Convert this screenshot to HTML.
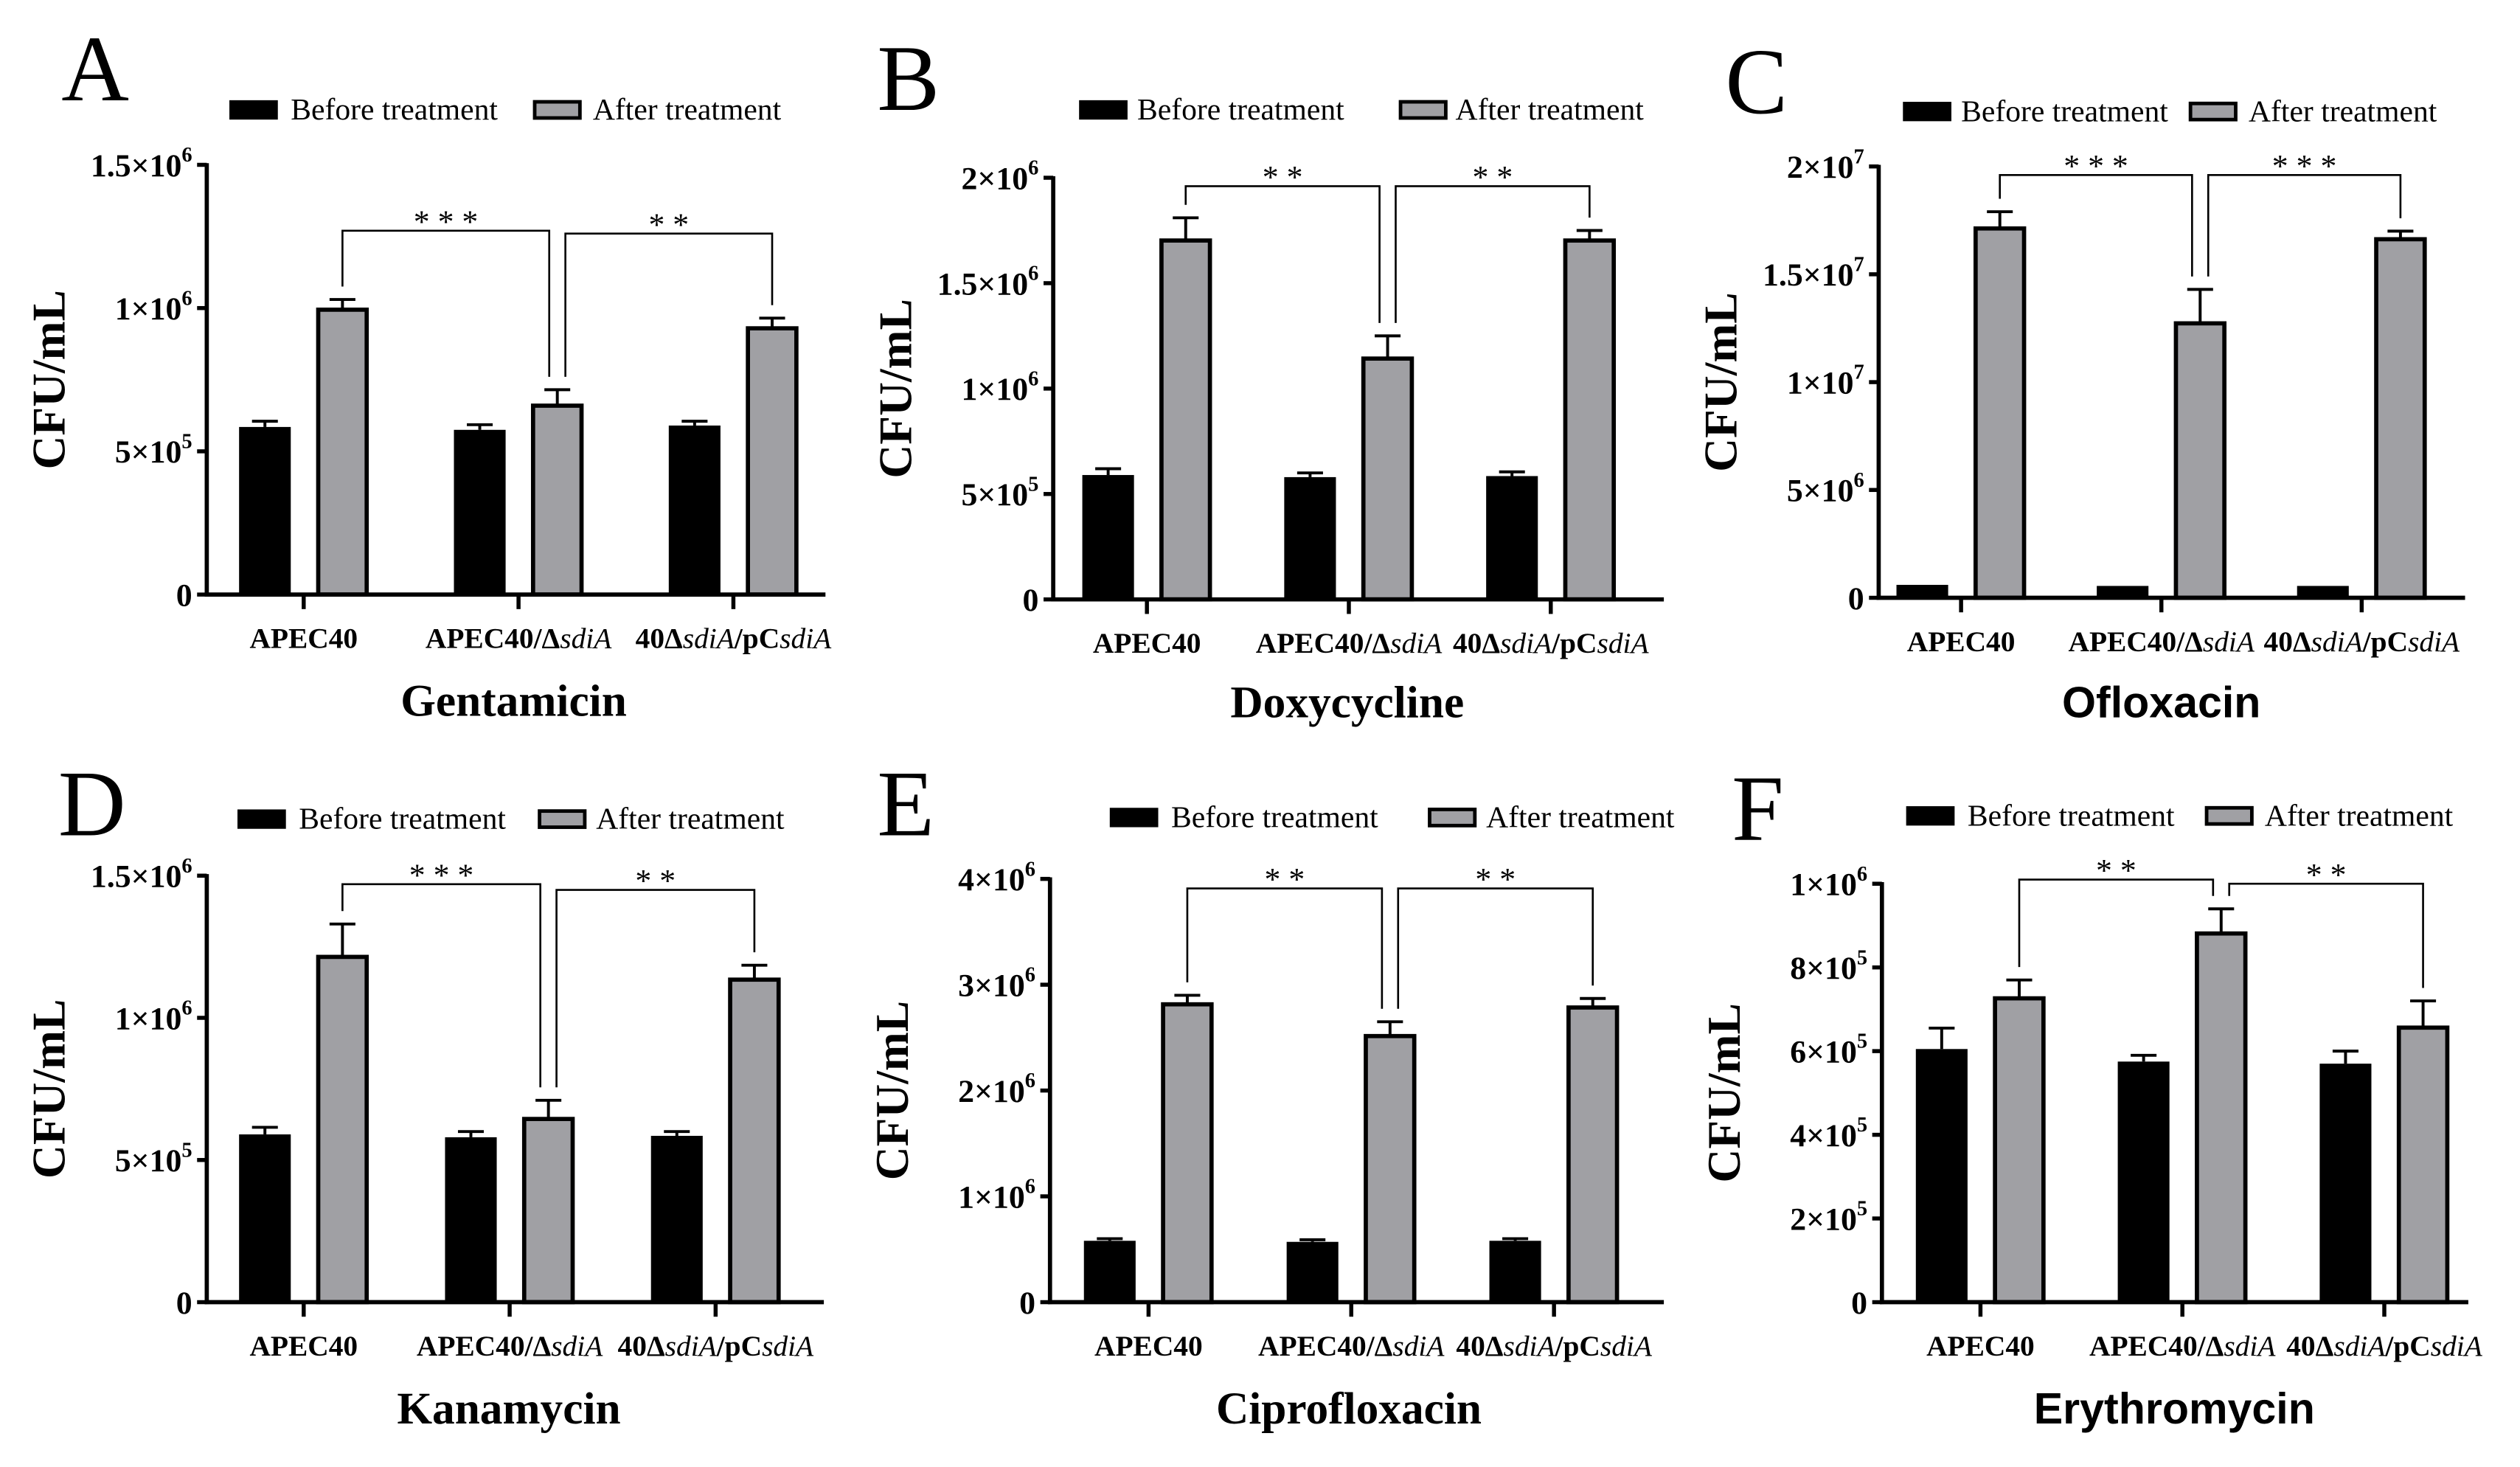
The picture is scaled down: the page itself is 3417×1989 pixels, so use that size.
<!DOCTYPE html>
<html><head><meta charset="utf-8"><style>
html,body{margin:0;padding:0;background:#fff}
svg{display:block}
.serif{font-family:"Liberation Serif",serif}
.sans{font-family:"Liberation Sans",sans-serif}
</style></head><body>
<svg id="fig" width="3417" height="1989" viewBox="0 0 1560 908" xmlns="http://www.w3.org/2000/svg"></svg>
<script>
const categories = ["APEC40", "APEC40/Δ", "40Δ"];
// values (CFU/mL)
const gentBefore = [5.85e5, 5.75e5, 5.9e5];
const gentBeforeErr = [0.2e5, 0.18e5, 0.15e5];
const gentAfter = [1.0e6, 6.65e5, 9.35e5];
const gentAfterErr = [0.3e5, 0.5e5, 0.3e5];
const doxyBefore = [5.9e5, 5.8e5, 5.85e5];
const doxyBeforeErr = [0.3e5, 0.2e5, 0.2e5];
const doxyAfter = [1.71e6, 1.15e6, 1.71e6];
const doxyAfterErr = [1.0e5, 1.0e5, 0.4e5];
const oflxBefore = [0.6e6, 0.55e6, 0.55e6];
const oflxBeforeErr = [0, 0, 0];
const oflxAfter = [1.72e7, 1.28e7, 1.67e7];
const oflxAfterErr = [0.7e6, 1.5e6, 0.3e6];
const kanaBefore = [5.9e5, 5.8e5, 5.85e5];
const kanaBeforeErr = [0.25e5, 0.2e5, 0.15e5];
const kanaAfter = [1.22e6, 6.5e5, 1.14e6];
const kanaAfterErr = [1.1e5, 0.6e5, 0.45e5];
const ciprBefore = [5.8e5, 5.7e5, 5.8e5];
const ciprBeforeErr = [0.2e5, 0.2e5, 0.2e5];
const ciprAfter = [2.83e6, 2.53e6, 2.8e6];
const ciprAfterErr = [0.7e5, 1.2e5, 0.7e5];
const erytBefore = [6.05e5, 5.75e5, 5.7e5];
const erytBeforeErr = [0.5e5, 0.15e5, 0.3e5];
const erytAfter = [7.3e5, 8.85e5, 6.6e5];
const erytAfterErr = [0.4e5, 0.55e5, 0.6e5];
// significance
const gentStars = ["* * *", "* *"];
const doxyStars = ["* *", "* *"];
const oflxStars = ["* * *", "* * *"];
const kanaStars = ["* * *", "* *"];
const ciprStars = ["* *", "* *"];
const erytStars = ["* *", "* *"];
const gentBracket = [1.27e6, 1.26e6];
const doxyBracket = [1.96e6, 1.96e6];
const oflxBracket = [1.96e7, 1.96e7];
const kanaBracket = [1.47e6, 1.45e6];
const ciprBracket = [3.91e6, 3.91e6];
const erytBracket = [1.01e6, 1.0e6];
// ticks
const ticksA = [0, 5e5, 1e6, 1.5e6];
const tickLabelsA = [["0",""], ["5×10","5"], ["1×10","6"], ["1.5×10","6"]];
const ticksB = [0, 5e5, 1e6, 1.5e6, 2e6];
const tickLabelsB = [["0",""], ["5×10","5"], ["1×10","6"], ["1.5×10","6"], ["2×10","6"]];
const ticksC = [0, 5e6, 1e7, 1.5e7, 2e7];
const tickLabelsC = [["0",""], ["5×10","6"], ["1×10","7"], ["1.5×10","7"], ["2×10","7"]];
const ticksE = [0, 1e6, 2e6, 3e6, 4e6];
const tickLabelsE = [["0",""], ["1×10","6"], ["2×10","6"], ["3×10","6"], ["4×10","6"]];
const ticksF = [0, 2e5, 4e5, 6e5, 8e5, 1e6];
const tickLabelsF = [["0",""], ["2×10","5"], ["4×10","5"], ["6×10","5"], ["8×10","5"], ["1×10","6"]];

const NS = "http://www.w3.org/2000/svg";
const svg = document.getElementById('fig');
function mk(tag, attrs, parent, text) {
  const e = document.createElementNS(NS, tag);
  for (const k in attrs) e.setAttribute(k, attrs[k]);
  if (text !== undefined) e.textContent = text;
  (parent || svg).appendChild(e);
  return e;
}

const panels = [
  {id:"a", letter:"A", lx:38, ly:62, title:"Gentamicin", tcls:"serif", tx:318, ty:443,
   x0:128, xEnd:511, yTop:102, y0:368, max:1.5e6, g0:188, sp:133,
   ticks:ticksA, tl:tickLabelsA, before:gentBefore, be:gentBeforeErr, after:gentAfter, ae:gentAfterErr,
   stars:gentStars, br:gentBracket, leg:[142,180,330,367,68]},
  {id:"b", letter:"B", lx:543, ly:68, title:"Doxycycline", tcls:"serif", tx:834, ty:444,
   x0:652, xEnd:1030, yTop:110, y0:371, max:2e6, g0:710, sp:125,
   ticks:ticksB, tl:tickLabelsB, before:doxyBefore, be:doxyBeforeErr, after:doxyAfter, ae:doxyAfterErr,
   stars:doxyStars, br:doxyBracket, leg:[668,704,866,901,68]},
  {id:"c", letter:"C", lx:1068, ly:70, title:"Ofloxacin", tcls:"sans", tx:1338, ty:444,
   x0:1163, xEnd:1526, yTop:103, y0:370, max:2e7, g0:1214, sp:124,
   ticks:ticksC, tl:tickLabelsC, before:oflxBefore, be:oflxBeforeErr, after:oflxAfter, ae:oflxAfterErr,
   stars:oflxStars, br:oflxBracket, leg:[1178,1214,1355,1392,69]},
  {id:"d", letter:"D", lx:36, ly:517, title:"Kanamycin", tcls:"serif", tx:315, ty:881,
   x0:128, xEnd:510, yTop:542, y0:806, max:1.5e6, g0:188, sp:127.5,
   ticks:ticksA, tl:tickLabelsA, before:kanaBefore, be:kanaBeforeErr, after:kanaAfter, ae:kanaAfterErr,
   stars:kanaStars, br:kanaBracket, leg:[147,185,333,369,507]},
  {id:"e", letter:"E", lx:543, ly:517, title:"Ciprofloxacin", tcls:"serif", tx:835, ty:881,
   x0:650, xEnd:1030, yTop:544, y0:806, max:4e6, g0:711, sp:125.5,
   ticks:ticksE, tl:tickLabelsE, before:ciprBefore, be:ciprBeforeErr, after:ciprAfter, ae:ciprAfterErr,
   stars:ciprStars, br:ciprBracket, leg:[687,725,884,920,506]},
  {id:"f", letter:"F", lx:1072, ly:520, title:"Erythromycin", tcls:"sans", tx:1346, ty:881,
   x0:1165, xEnd:1528, yTop:547, y0:806, max:1e6, g0:1226, sp:125,
   ticks:ticksF, tl:tickLabelsF, before:erytBefore, be:erytBeforeErr, after:erytAfter, ae:erytAfterErr,
   stars:erytStars, br:erytBracket, leg:[1180,1218,1365,1402,505]}
];

panels.forEach(p => {
  const g = mk('g', {});
  
  
  const y = v => p.y0 - (v / p.max) * (p.y0 - p.yTop);
  const gx = i => p.g0 + i * p.sp;
  const BW = 32, OFF = 24;

  const L = mk('text', {x:p.lx, y:p.ly, class:'serif', 'font-size':58}, g, p.letter);
  
  

  // legend
  const [r1, t1, r2, t2, ly] = p.leg;
  const lg = mk('g', {}, g);
  
  
  mk('rect', {x:r1, y:ly-6, width:30, height:12, fill:'#000'}, lg);
  mk('text', {x:t1, y:ly+6, class:'serif', 'font-size':19}, lg, 'Before treatment');
  mk('rect', {x:r2+1, y:ly-5, width:28, height:10, fill:'#a0a0a4', stroke:'#000', 'stroke-width':2.2}, lg);
  mk('text', {x:t2, y:ly+6, class:'serif', 'font-size':19}, lg, 'After treatment');

  // y axis ticks
  p.ticks.forEach((t, i) => {
    const ty = y(t);
    mk('line', {x1:p.x0-6, x2:p.x0, y1:ty, y2:ty, stroke:'#000', 'stroke-width':2.5}, g);
    const lab = mk('text', {x:p.x0-9, y:ty+7, 'text-anchor':'end', class:'serif', 'font-size':20, 'font-weight':'bold'}, g);
    
    
    const [base, exp] = p.tl[i];
    mk('tspan', {}, lab, base);
    if (exp) mk('tspan', {'font-size':13, dy:-9}, lab, exp);
  });

  // bars
  categories.forEach((c, i) => {
    const cx = gx(i);
    const bx = cx - OFF, ax = cx + OFF;
    [[bx, p.before[i], p.be[i]], [ax, p.after[i], p.ae[i]]].forEach(([x, v, e]) => {
      if (e > 0) {
        mk('line', {x1:x, x2:x, y1:y(v), y2:y(v+e), stroke:'#000', 'stroke-width':1.8}, g);
        mk('line', {x1:x-8, x2:x+8, y1:y(v+e), y2:y(v+e), stroke:'#000', 'stroke-width':1.8}, g);
      }
    });
    const b = mk('rect', {x:bx-BW/2, y:y(p.before[i]), width:BW, height:p.y0-y(p.before[i]), fill:'#000'}, g);
    
    
    const a = mk('rect', {x:ax-BW/2+1, y:y(p.after[i])+1, width:BW-2, height:p.y0-y(p.after[i])-1, fill:'#a0a0a4', stroke:'#000', 'stroke-width':2.6}, g);
    
    
    mk('line', {x1:cx, x2:cx, y1:p.y0, y2:p.y0+9, stroke:'#000', 'stroke-width':2.5}, g);
    const xl = mk('text', {x:cx, y:p.y0+33, 'text-anchor':'middle', class:'serif', 'font-size':18, 'font-weight':'bold'}, g);
    
    
    if (i === 0) mk('tspan', {}, xl, 'APEC40');
    else if (i === 1) { mk('tspan', {}, xl, 'APEC40/Δ'); mk('tspan', {'font-style':'italic', 'font-weight':'normal'}, xl, 'sdiA'); }
    else { mk('tspan', {}, xl, '40Δ'); mk('tspan', {'font-style':'italic', 'font-weight':'normal'}, xl, 'sdiA'); mk('tspan', {}, xl, '/pC'); mk('tspan', {'font-style':'italic', 'font-weight':'normal'}, xl, 'sdiA'); }
  });

  // axes
  mk('line', {x1:p.x0, x2:p.x0, y1:p.yTop-1, y2:p.y0+1.2, stroke:'#000', 'stroke-width':2.6}, g);
  mk('line', {x1:p.x0-1.3, x2:p.xEnd, y1:p.y0, y2:p.y0, stroke:'#000', 'stroke-width':2.6}, g);

  // brackets
  const tops = p.after.map((v, i) => y(v + p.ae[i]) - 8);
  const pairs = [[0, 1], [1, 2]];
  pairs.forEach(([i, j], k) => {
    const x1 = gx(i) + OFF + (k === 1 ? 5 : 0);
    const x2 = gx(j) + OFF - (k === 0 ? 5 : 0);
    const by = y(p.br[k]);
    const br = mk('path', {d:`M${x1},${tops[i]} V${by} H${x2} V${tops[j]}`, fill:'none', stroke:'#000', 'stroke-width':1.2}, g);
    
    
    const st = mk('text', {x:(x1+x2)/2, y:by+1, 'text-anchor':'middle', class:'serif', 'font-size':20}, g, p.stars[k]);
    
    
  });

  // y label
  const yc = (p.yTop + p.y0) / 2;
  const yl = mk('text', {x:0, y:0, transform:`translate(${p.x0-88},${yc}) rotate(-90)`, 'text-anchor':'middle', class:'serif', 'font-size':29, 'font-weight':'bold'}, g, 'CFU/mL');
  
  

  const t = mk('text', {x:p.tx, y:p.ty, 'text-anchor':'middle', class:p.tcls, 'font-size':p.tcls === 'sans' ? 27 : 28, 'font-weight':'bold'}, g, p.title);
  
  
});
</script>
</body></html>
